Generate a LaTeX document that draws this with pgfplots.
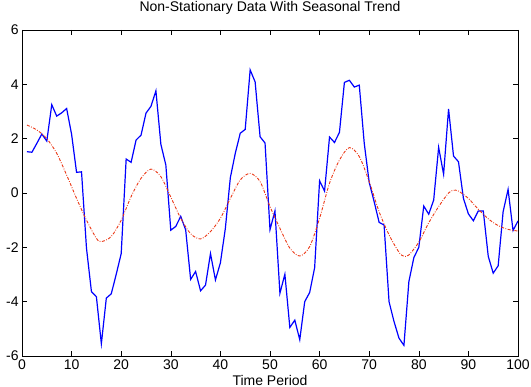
\documentclass[border=0pt]{standalone}
\usepackage{fontspec}
\setmainfont{Liberation Sans}
\usepackage{pgfplots}
\pgfplotsset{compat=1.18}
\definecolor{trendred}{RGB}{235,55,20}
\begin{document}
\fontsize{14bp}{16bp}\selectfont
\begin{tikzpicture}
\begin{axis}[
  at={(0,0)}, anchor=south west,
  scale only axis, width=496bp, height=326bp,
  xmin=0, xmax=100, ymin=-6, ymax=6,
  xtick={0,10,...,100}, ytick={-6,-4,...,6},
  tick align=inside, major tick length=5bp,
  axis line style={line width=0.9bp},
  tick style={line width=0.6bp, black},
  /pgf/number format/assume math mode=true,
  tick label style={font=\fontsize{14bp}{16bp}\selectfont},
  xticklabel style={yshift=1bp},
  yticklabel style={xshift=1.5bp},
  title={Non-Stationary Data With Seasonal Trend},
  title style={at={(0.5,1)}, anchor=base, yshift=13bp, font=\fontsize{14bp}{16bp}\selectfont},
  xlabel={Time Period},
  xlabel style={at={(0.5,0)}, anchor=base, yshift=-29bp, font=\fontsize{14bp}{16bp}\selectfont},
  clip=true,
]
\addplot[blue, line width=1.2bp] coordinates {
(1,1.52)(2,1.50)(3,1.83)(4,2.17)(5,1.91)(6,3.25)(7,2.83)(8,2.95)(9,3.11)(10,2.16)
(11,0.76)(12,0.78)(13,-2.03)(14,-3.63)(15,-3.82)(16,-5.55)(17,-3.87)(18,-3.71)(19,-2.99)(20,-2.23)
(21,1.25)(22,1.13)(23,1.95)(24,2.13)(25,2.94)(26,3.19)(27,3.76)(28,1.79)(29,1.03)(30,-1.37)
(31,-1.23)(32,-0.86)(33,-1.36)(34,-3.18)(35,-2.89)(36,-3.60)(37,-3.39)(38,-2.23)(39,-3.20)(40,-2.57)
(41,-1.30)(42,0.56)(43,1.46)(44,2.20)(45,2.34)(46,4.53)(47,4.09)(48,2.07)(49,1.84)(50,-1.35)
(51,-0.66)(52,-3.69)(53,-2.99)(54,-4.95)(55,-4.68)(56,-5.40)(57,-4.00)(58,-3.66)(59,-2.75)(60,0.45)
(61,0.07)(62,2.06)(63,1.86)(64,2.23)(65,4.07)(66,4.15)(67,3.90)(68,3.97)(69,1.83)(70,0.39)
(71,-0.32)(72,-1.08)(73,-1.18)(74,-4.00)(75,-4.73)(76,-5.34)(77,-5.61)(78,-3.26)(79,-2.38)(80,-2.00)
(81,-0.48)(82,-0.78)(83,-0.26)(84,1.68)(85,0.69)(86,3.09)(87,1.36)(88,1.15)(89,-0.20)(90,-0.77)
(91,-1.02)(92,-0.66)(93,-0.66)(94,-2.33)(95,-2.95)(96,-2.68)(97,-0.69)(98,0.13)(99,-1.38)(100,-1.03)
};
\addplot[trendred, line width=0.9bp, smooth, dash pattern=on 3bp off 1.5bp on 0.8bp off 1.5bp] coordinates {
(1,2.50)(3,2.32)(5,2.00)(7,1.46)(9,0.66)(11,-0.20)(13,-1.00)(15,-1.67)(16,-1.79)(18,-1.60)
(20,-1.00)(22,-0.13)(24,0.54)(26,0.88)(28,0.60)(30,-0.15)(32,-0.93)(34,-1.50)(36,-1.69)(38,-1.42)
(40,-0.93)(42,-0.20)(44,0.48)(46,0.72)(48,0.42)(50,-0.50)(52,-1.30)(54,-2.03)(56,-2.32)(58,-1.97)
(60,-0.93)(62,0.36)(64,1.21)(66,1.67)(68,1.34)(70,0.42)(72,-0.69)(74,-1.54)(76,-2.18)(77,-2.33)
(78,-2.28)(80,-1.81)(82,-1.10)(84,-0.50)(86,0.00)(87,0.10)(88,0.07)(90,-0.20)(92,-0.60)(94,-0.95)
(96,-1.20)(98,-1.34)(100,-1.40)
};
\end{axis}
\pgfresetboundingbox
\path[use as bounding box] (-22bp,-31bp) rectangle (509bp,356bp);
\end{tikzpicture}
\end{document}
